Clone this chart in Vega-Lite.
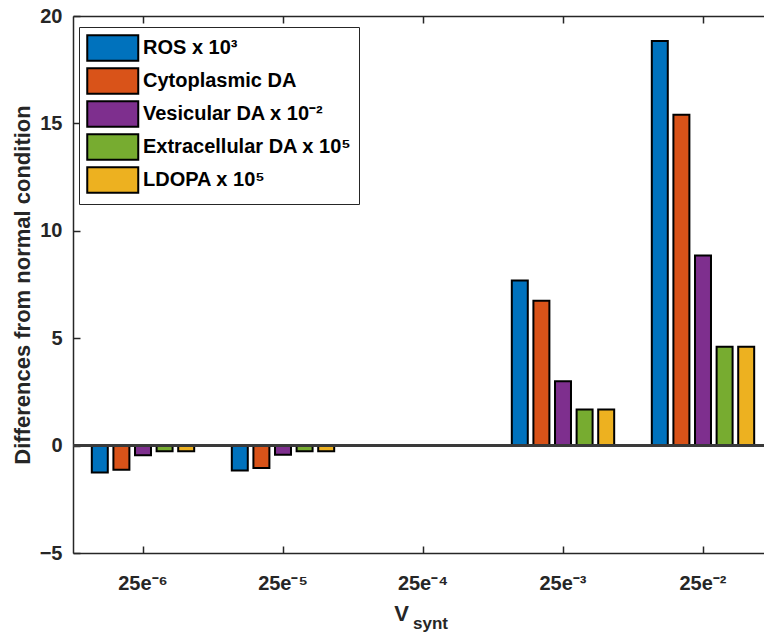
{
  "$schema": "https://vega.github.io/schema/vega-lite/v6.json",
  "width": 691,
  "height": 537,
  "autosize": {"type": "none"},
  "padding": {"left": 73, "top": 16, "right": 0, "bottom": 84},
  "background": "white",
  "config": {
    "view": {"stroke": null},
    "font": "Liberation Sans",
    "axis": {
      "labelFont": "Liberation Sans",
      "labelFontWeight": "bold",
      "labelFontSize": 20,
      "labelColor": "#262626",
      "titleFont": "Liberation Sans",
      "titleFontWeight": "bold",
      "titleFontSize": 22,
      "titleColor": "#262626",
      "domainColor": "#262626",
      "domainWidth": 1.5,
      "tickColor": "#262626",
      "tickWidth": 1.5,
      "grid": false
    }
  },
  "title": {
    "text": "synt",
    "orient": "bottom",
    "anchor": "middle",
    "dx": 12,
    "offset": -8,
    "font": "Liberation Sans",
    "fontSize": 17,
    "fontWeight": "bold",
    "color": "#262626"
  },
  "data": {
    "values": [
      {"v": "25e⁻⁶", "series": "ROS x 10³", "value": -1.25},
      {"v": "25e⁻⁶", "series": "Cytoplasmic DA", "value": -1.13},
      {"v": "25e⁻⁶", "series": "Vesicular DA x 10⁻²", "value": -0.45},
      {"v": "25e⁻⁶", "series": "Extracellular DA x 10⁵", "value": -0.26},
      {"v": "25e⁻⁶", "series": "LDOPA x 10⁵", "value": -0.26},
      {"v": "25e⁻⁵", "series": "ROS x 10³", "value": -1.16},
      {"v": "25e⁻⁵", "series": "Cytoplasmic DA", "value": -1.04},
      {"v": "25e⁻⁵", "series": "Vesicular DA x 10⁻²", "value": -0.43},
      {"v": "25e⁻⁵", "series": "Extracellular DA x 10⁵", "value": -0.26},
      {"v": "25e⁻⁵", "series": "LDOPA x 10⁵", "value": -0.26},
      {"v": "25e⁻⁴", "series": "ROS x 10³", "value": 0},
      {"v": "25e⁻⁴", "series": "Cytoplasmic DA", "value": 0},
      {"v": "25e⁻⁴", "series": "Vesicular DA x 10⁻²", "value": 0},
      {"v": "25e⁻⁴", "series": "Extracellular DA x 10⁵", "value": 0},
      {"v": "25e⁻⁴", "series": "LDOPA x 10⁵", "value": 0},
      {"v": "25e⁻³", "series": "ROS x 10³", "value": 7.69},
      {"v": "25e⁻³", "series": "Cytoplasmic DA", "value": 6.74},
      {"v": "25e⁻³", "series": "Vesicular DA x 10⁻²", "value": 2.99},
      {"v": "25e⁻³", "series": "Extracellular DA x 10⁵", "value": 1.68},
      {"v": "25e⁻³", "series": "LDOPA x 10⁵", "value": 1.68},
      {"v": "25e⁻²", "series": "ROS x 10³", "value": 18.84},
      {"v": "25e⁻²", "series": "Cytoplasmic DA", "value": 15.4},
      {"v": "25e⁻²", "series": "Vesicular DA x 10⁻²", "value": 8.85},
      {"v": "25e⁻²", "series": "Extracellular DA x 10⁵", "value": 4.6},
      {"v": "25e⁻²", "series": "LDOPA x 10⁵", "value": 4.6}
    ]
  },
  "layer": [
    {
      "mark": {"type": "bar", "strokeWidth": 2, "opacity": 1},
      "encoding": {
        "x": {
          "field": "v",
          "type": "nominal",
          "sort": ["25e⁻⁶", "25e⁻⁵", "25e⁻⁴", "25e⁻³", "25e⁻²"],
          "scale": {"range": [0, 700], "paddingInner": 0.2286, "paddingOuter": 0.1143},
          "axis": {
            "orient": "bottom",
            "title": "V",
            "titleX": 328,
            "titleY": 67,
            "titleAlign": "center",
            "titleBaseline": "alphabetic",
            "titleAngle": 0,
            "labelAngle": 0,
            "tickSize": -7,
            "labelPadding": 27,
            "labelBaseline": "top"
          }
        },
        "xOffset": {
          "field": "series",
          "sort": ["ROS x 10³", "Cytoplasmic DA", "Vesicular DA x 10⁻²", "Extracellular DA x 10⁵", "LDOPA x 10⁵"],
          "scale": {"paddingInner": 0.26, "paddingOuter": 0.13}
        },
        "y": {
          "field": "value",
          "type": "quantitative",
          "scale": {"domain": [-5, 20], "nice": false, "zero": false},
          "axis": {
            "title": "Differences from normal condition",
            "values": [-5, 0, 5, 10, 15, 20],
            "tickSize": -7,
            "labelPadding": 18,
            "titlePadding": 5
          }
        },
        "color": {
          "field": "series",
          "type": "nominal",
          "sort": ["ROS x 10³", "Cytoplasmic DA", "Vesicular DA x 10⁻²", "Extracellular DA x 10⁵", "LDOPA x 10⁵"],
          "scale": {
            "domain": ["ROS x 10³", "Cytoplasmic DA", "Vesicular DA x 10⁻²", "Extracellular DA x 10⁵", "LDOPA x 10⁵"],
            "range": ["#0072BD", "#D95319", "#7E2F8E", "#77AC30", "#EDB120"]
          },
          "legend": {
            "orient": "none",
            "legendX": 6,
            "legendY": 11,
            "title": null,
            "padding": 7,
            "fillColor": "white",
            "strokeColor": "#262626",
            "symbolType": "M-1,-1H3V1H-1Z",
            "symbolSize": 650,
            "symbolStrokeColor": "black",
            "symbolStrokeWidth": 2,
            "symbolOpacity": 1,
            "labelFont": "Liberation Sans",
            "labelFontSize": 20,
            "labelFontWeight": "bold",
            "labelColor": "black",
            "labelLimit": 400,
            "labelOffset": 29,
            "rowPadding": -1
          }
        },
        "stroke": {
          "condition": {"test": "datum.value === 0", "value": "transparent"},
          "value": "black"
        }
      }
    },
    {
      "mark": {"type": "rule", "color": "#3a3a3a", "strokeWidth": 2},
      "encoding": {"y": {"datum": 0}}
    },
    {
      "mark": {"type": "point", "opacity": 0},
      "encoding": {
        "x": {
          "field": "v",
          "type": "nominal",
          "sort": ["25e⁻⁶", "25e⁻⁵", "25e⁻⁴", "25e⁻³", "25e⁻²"],
          "axis": {"orient": "top", "labels": false, "title": null, "tickSize": -7}
        }
      }
    }
  ],
  "resolve": {"axis": {"x": "independent"}}
}
